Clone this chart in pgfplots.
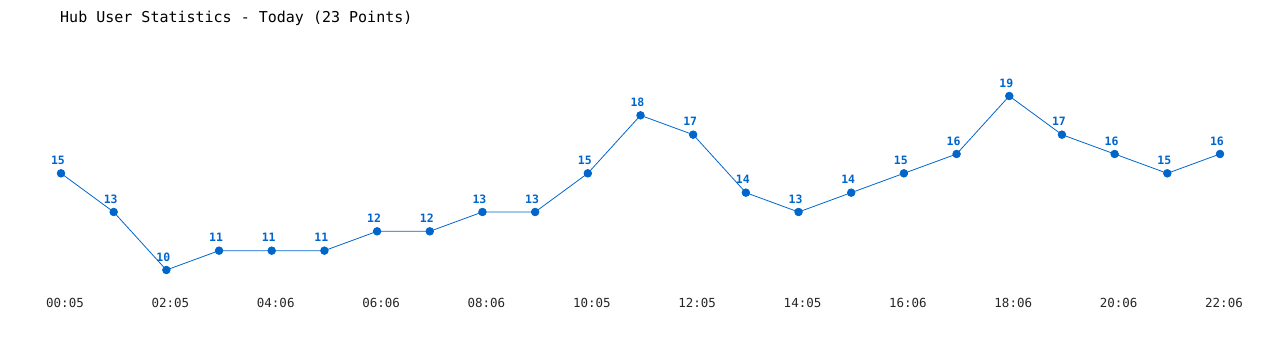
\documentclass[border=0pt]{standalone}
\usepackage{pgfplots}
\pgfplotsset{compat=1.18}
\usepackage{fontspec}
\setmainfont{DejaVu Sans Mono}
\definecolor{linec}{HTML}{0066CC}
\begin{document}
\begin{tikzpicture}[x=1pt,y=1pt]
\begin{axis}[
  at={(61pt,80pt)}, anchor=origin,
  scale only axis, width=1159pt, height=174pt,
  xmin=0, xmax=22, ymin=10, ymax=19,
  clip=false,
  axis line style={draw=none},
  ytick=\empty,
  xtick={0,2,...,22},
  xticklabels={00:05,02:05,04:06,06:06,08:06,10:05,12:05,14:05,16:06,18:06,20:06,22:06},
  major tick length=0pt,
  xticklabel style={anchor=center, yshift=-33pt, xshift=4pt, font=\fontsize{12.5}{14}\selectfont, text=black!85},
  /pgf/number format/assume math mode=true,
  nodes near coords,
  every node near coord/.append style={anchor=center, yshift=13pt, xshift=-3pt, inner sep=0pt, text=linec, font=\fontsize{11.5}{13}\selectfont\bfseries},
]
\addplot[color=linec, line width=0.8pt, mark=*, mark size=3.8pt, mark options={fill=linec, draw=linec}] coordinates {
(0,15)(1,13)(2,10)(3,11)(4,11)(5,11)(6,12)(7,12)(8,13)(9,13)(10,15)(11,18)(12,17)(13,14)(14,13)(15,14)(16,15)(17,16)(18,19)(19,17)(20,16)(21,15)(22,16)};
\end{axis}
\node[anchor=west, inner sep=0pt, font=\fontsize{15}{17}\selectfont] at (60pt,332pt) {Hub User Statistics - Today (23 Points)};
\pgfresetboundingbox
\path (0,0) rectangle (1280pt,350pt);
\end{tikzpicture}
\end{document}
